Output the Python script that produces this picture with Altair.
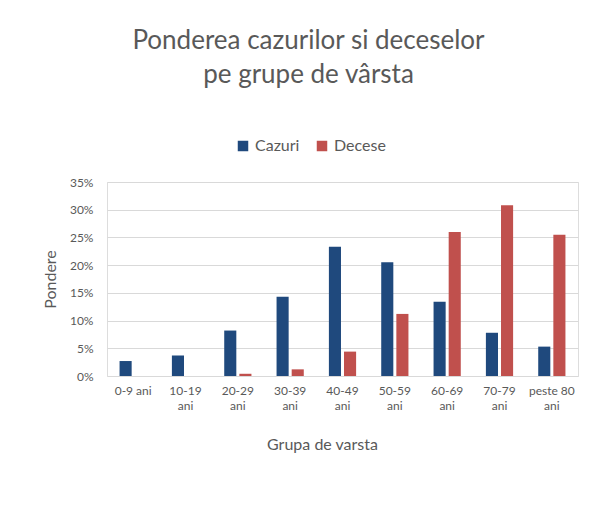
import altair as alt
import pandas as pd

categories = ["0-9 ani", "10-19\nani", "20-29\nani", "30-39\nani", "40-49\nani",
              "50-59\nani", "60-69\nani", "70-79\nani", "peste 80\nani"]
cazuri = [2.7, 3.7, 8.2, 14.3, 23.3, 20.5, 13.4, 7.8, 5.3]
decese = [0.0, 0.0, 0.4, 1.2, 4.4, 11.2, 26.0, 30.8, 25.5]
series = ["Cazuri", "Decese"]
colors = ["#1F497D", "#C0504D"]

rows = []
for c, a, d in zip(categories, cazuri, decese):
    rows.append({"grupa": c, "serie": "Cazuri", "val": a / 100})
    rows.append({"grupa": c, "serie": "Decese", "val": d / 100})
df = pd.DataFrame(rows)

FONT = "Lato"
GRAY = "#595959"

chart = alt.Chart(df).mark_bar().encode(
    x=alt.X("grupa:N", sort=categories,
            scale=alt.Scale(paddingInner=0.48, paddingOuter=0.24),
            axis=alt.Axis(title="Grupa de varsta", labelAngle=0, ticks=False, domain=False,
                          labelExpr="split(datum.label, '\\n')", labelFontSize=12,
                          labelColor=GRAY, labelFont=FONT, labelPadding=9, labelLineHeight=15,
                          titleFont=FONT, titleFontSize=16, titleFontWeight="normal",
                          titleColor=GRAY, titleX=215, titleY=68, titleAlign="center",
                          titleBaseline="middle")),
    xOffset=alt.XOffset("serie:N", sort=series, scale=alt.Scale(paddingInner=0.2)),
    y=alt.Y("val:Q", scale=alt.Scale(domain=[0, 0.35]),
            axis=alt.Axis(title="Pondere", format=".0%", values=[0, 0.05, 0.1, 0.15, 0.2, 0.25, 0.3, 0.35],
                          ticks=False, domain=False, gridColor="#D9D9D9", gridWidth=1,
                          labelFontSize=12, labelColor=GRAY, labelFont=FONT, labelPadding=14,
                          titleFont=FONT, titleFontSize=16, titleFontWeight="normal",
                          titleColor=GRAY, titleX=-57, titleY=97, titleAngle=-90,
                          titleAlign="center", titleBaseline="middle")),
    color=alt.Color("serie:N", sort=series, scale=alt.Scale(domain=series, range=colors),
                    legend=alt.Legend(title=None, orient="none", direction="horizontal",
                                      legendX=128, legendY=-44, symbolType="square",
                                      symbolSize=110, symbolStrokeWidth=0,
                                      labelFont=FONT, labelFontSize=16, labelColor=GRAY,
                                      columnPadding=14, labelOffset=4)),
).properties(
    width=471, height=194,
    title=alt.TitleParams(text=["Ponderea cazurilor si deceselor", "pe grupe de vârsta"],
                          font=FONT, fontSize=26, fontWeight="normal", color=GRAY,
                          anchor="middle", dx=-34, offset=50, lineHeight=34),
    padding={"left": 107, "top": 182, "right": 32, "bottom": 146},
    autosize=alt.AutoSizeParams(type="none"),
).configure_view(stroke=None).configure(background="white")

chart.save("out.html", embed_options={"renderer": "svg", "actions": False})
